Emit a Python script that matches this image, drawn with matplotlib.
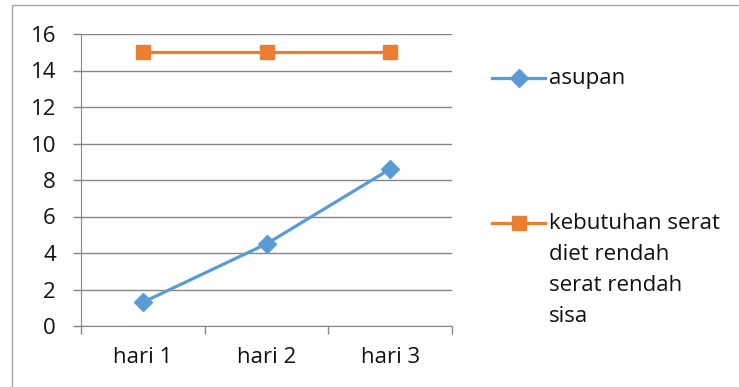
import matplotlib
matplotlib.use("Agg")
import matplotlib.pyplot as plt
from matplotlib.lines import Line2D
from matplotlib.patches import Rectangle

# data
days = ["hari 1", "hari 2", "hari 3"]
asupan = [1.3, 4.5, 8.6]
kebutuhan = [15, 15, 15]
label_asupan = "asupan"
label_kebutuhan = "kebutuhan serat\ndiet rendah\nserat rendah\nsisa"

blue = "#5B9BD5"
orange = "#ED7D31"
grid_col = "#868686"

plt.rcParams["font.family"] = ["Open Sans", "DejaVu Sans"]
plt.rcParams["font.size"] = 16
plt.rcParams["text.color"] = "#111111"
plt.rcParams["xtick.labelcolor"] = "#111111"
plt.rcParams["ytick.labelcolor"] = "#111111"

fig = plt.figure(figsize=(7.39, 3.87), dpi=100)
W, H = 739, 387
ax = fig.add_axes([81 / W, 1 - 326 / H, (452 - 81) / W, (326 - 34) / H])

x = list(range(len(days)))
ax.plot(x, asupan, color=blue, lw=2.3, marker="D", ms=9.5, zorder=3)
ax.plot(x, kebutuhan, color=orange, lw=2.3, marker="s", ms=10.5, zorder=3)

ax.set_xlim(-0.5, len(days) - 0.5)
ax.set_ylim(0, 16)
ax.set_yticks(range(0, 17, 2))
ax.set_xticks(x)
ax.set_xticklabels(days)
ax.set_xticks([i - 0.5 for i in range(len(days) + 1)], minor=True)
ax.tick_params(axis="x", which="major", length=0, pad=15)
ax.tick_params(axis="x", which="minor", length=6, color=grid_col, width=1)
ax.tick_params(axis="y", length=6, color=grid_col, width=1, pad=12)
ax.grid(axis="y", color=grid_col, lw=1)
ax.set_axisbelow(True)
for side in ["top", "right"]:
    ax.spines[side].set_visible(False)
ax.spines["left"].set_color(grid_col)
ax.spines["bottom"].set_color(grid_col)

# legend drawn by hand so the handle sits on the first text line
def legend_entry(y_px, color, marker, ms, text):
    yf = 1 - y_px / H
    fig.add_artist(Line2D([492 / W, 545 / W], [yf, yf], color=color, lw=2.3,
                          transform=fig.transFigure))
    fig.add_artist(Line2D([518.5 / W], [yf], color=color, marker=marker, ms=ms,
                          lw=0, transform=fig.transFigure))
    fig.text(549 / W, yf + 10 / H, text, va="top", ha="left", linespacing=1.62,
             transform=fig.transFigure)

legend_entry(78, blue, "D", 9.5, label_asupan)
legend_entry(223, orange, "s", 10.5, label_kebutuhan)

# chart frame
fig.add_artist(Rectangle((12 / W, -0.1), 1.2, 1 - 5 / H + 0.1, fill=False,
                         edgecolor="#A6A6A6", lw=1, transform=fig.transFigure))

fig.savefig("out.png", dpi=100)
